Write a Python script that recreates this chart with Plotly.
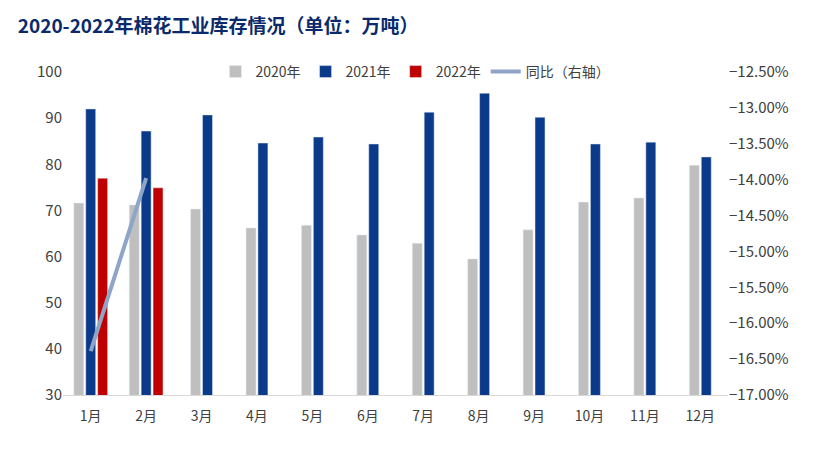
import plotly.graph_objects as go

months = ["1月", "2月", "3月", "4月", "5月", "6月", "7月", "8月", "9月", "10月", "11月", "12月"]
y2020 = [71.6, 71.2, 70.3, 66.2, 66.8, 64.7, 62.9, 59.5, 65.8, 71.8, 72.7, 79.8]
y2021 = [92.0, 87.2, 90.7, 84.6, 85.9, 84.4, 91.3, 95.4, 90.2, 84.4, 84.8, 81.6]
y2022 = [77.0, 74.9]
yoy = [-16.39, -13.98]

FONT = "Noto Sans CJK SC"
W = 0.215  # slot width in month units
BW = 0.18  # drawn bar width

# bars in each month are centred on the month; months with 2022 data hold three bars
n = len(y2022)
x20 = [i - W if i < n else i - W / 2 for i in range(len(months))]
x21 = [i if i < n else i + W / 2 for i in range(len(months))]
x22 = [i + W for i in range(n)]

fig = go.Figure()
fig.add_trace(go.Bar(x=x20, y=y2020, name="2020年", marker_color="#BFBFBF", width=BW))
fig.add_trace(go.Bar(x=x21, y=y2021, name="2021年", marker_color="#0B3A8A", width=BW))
fig.add_trace(go.Bar(x=x22, y=y2022, name="2022年", marker_color="#C00000", width=BW))
fig.add_trace(go.Scatter(x=list(range(n)), y=yoy, name="同比（右轴）", mode="lines",
                         line=dict(color="#8EA5C8", width=4), yaxis="y2"))

fig.update_layout(
    width=816, height=461,
    paper_bgcolor="white", plot_bgcolor="white",
    font=dict(family=FONT, size=14, color="#404040"),
    title=dict(text="<b>2020-2022年棉花工业库存情况（单位：万吨）</b>", x=0.012, y=0.975,
               font=dict(size=19, color="#0B2A6B")),
    barmode="overlay",
    margin=dict(l=55, r=96, t=64, b=74),
    legend=dict(orientation="h", x=0.53, y=1.0, xanchor="center", yanchor="middle",
                font=dict(size=14), bgcolor="rgba(255,255,255,0)"),
    xaxis=dict(range=[-0.5, 11.5], tickvals=list(range(len(months))), ticktext=months,
               showline=True, linecolor="#D9D9D9", ticks="", tickfont=dict(size=14),
               ticklabelstandoff=8),
    yaxis=dict(range=[30, 100], dtick=10, showgrid=False, tickfont=dict(size=15), zeroline=False),
    yaxis2=dict(range=[-17, -12.5], dtick=0.5, overlaying="y", side="right", showgrid=False,
                ticksuffix="%", tickformat=".2f", tickfont=dict(size=15), zeroline=False),
)
fig.write_html("out.html")
